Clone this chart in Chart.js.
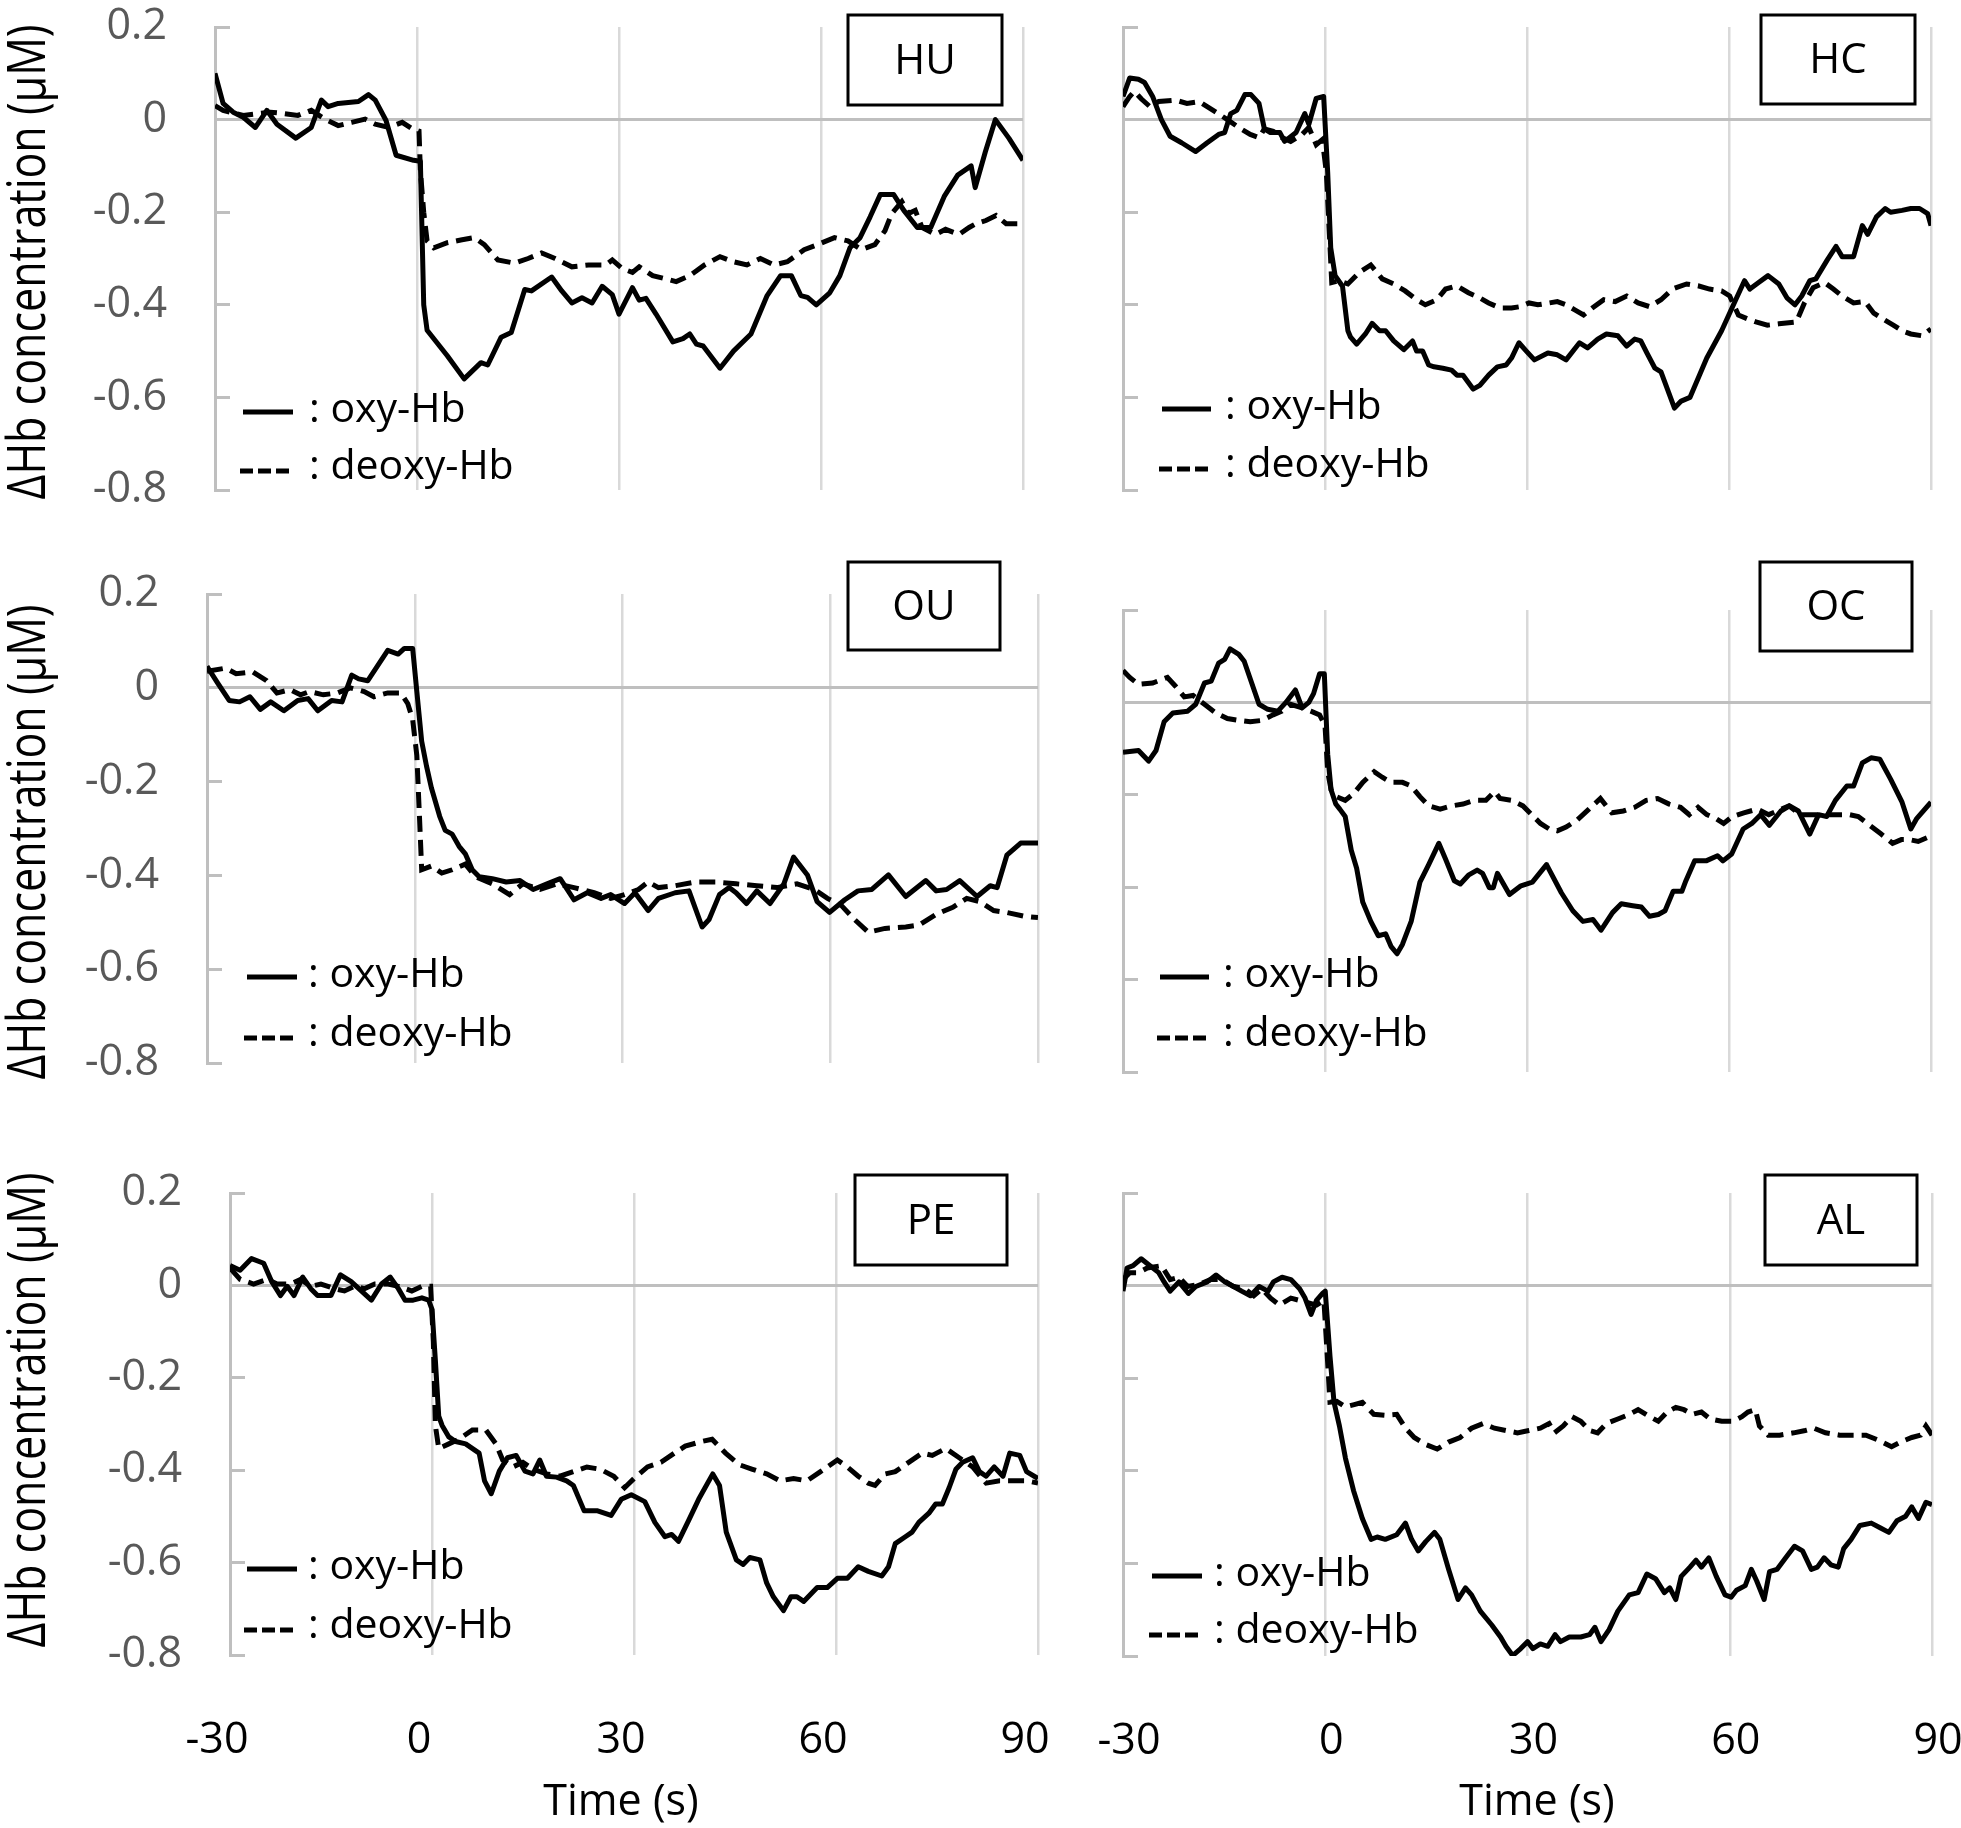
<!DOCTYPE html>
<html>
<head>
<meta charset="utf-8">
<script src="https://cdn.jsdelivr.net/npm/chart.js@4.4.1/dist/chart.umd.min.js"></script>
<style>
  html, body { margin: 0; padding: 0; background: #fff; }
  #wrap { position: relative; width: 1961px; height: 1828px; overflow: hidden; }
  #wrap canvas { position: absolute; left: 0; top: 0; }
</style>
</head>
<body>
<div id="wrap"></div>
<script>
// time axis (s) and concentration axis (uM)
const xTicks = [-30, 0, 30, 60, 90];
const yTicks = [0.2, 0, -0.2, -0.4, -0.6, -0.8];
const yTickLabels = ['0.2', '0', '-0.2', '-0.4', '-0.6', '-0.8'];
const seriesNames = ['oxy-Hb', 'deoxy-Hb'];
const panelNames = ['HU', 'HC', 'OU', 'OC', 'PE', 'AL'];

// [time, value]
const huOxy = [[-30,0.10],[-28.8,0.035],[-27.3,0.016],[-25.8,0.005],[-24,-0.017],[-22.3,0.02],[-20.8,-0.01],[-18,-0.04],[-15.7,-0.017],[-14.2,0.042],[-13.2,0.028],[-11.7,0.035],[-8.7,0.039],[-7.2,0.054],[-6.2,0.042],[-4.6,-0.002],[-3.1,-0.077],[-0.5,-0.088],[0.5,-0.09],[1,-0.40],[1.5,-0.455],[4.5,-0.51],[7,-0.56],[9.5,-0.525],[10.5,-0.53],[12.5,-0.47],[14,-0.46],[16,-0.367],[17,-0.37],[20,-0.34],[21.5,-0.37],[23,-0.396],[24.5,-0.385],[26,-0.396],[27.5,-0.36],[29,-0.378],[30,-0.42],[32,-0.363],[33,-0.39],[34,-0.386],[35.5,-0.42],[38,-0.48],[39.5,-0.473],[40.5,-0.463],[41.5,-0.485],[42.5,-0.489],[45,-0.537],[47,-0.5],[49.6,-0.463],[52,-0.38],[54,-0.337],[55.6,-0.337],[57,-0.38],[58,-0.384],[59.3,-0.4],[61.3,-0.374],[62.8,-0.337],[64.3,-0.277],[65.8,-0.255],[67.3,-0.21],[68.8,-0.162],[70.8,-0.162],[72.3,-0.196],[74.3,-0.233],[76.3,-0.233],[78.3,-0.166],[80.3,-0.12],[82.3,-0.1],[82.9,-0.147],[84.4,-0.07],[85.9,0.0],[87.9,-0.04],[90,-0.088]];
const huDeoxy = [[-30,0.03],[-28.8,0.02],[-25.8,0.009],[-21.8,0.016],[-19.7,0.013],[-17.7,0.009],[-15.7,0.02],[-13.7,0.001],[-11.7,-0.013],[-9.7,-0.006],[-7.7,0.001],[-6.2,-0.01],[-4.2,-0.017],[-2.2,-0.006],[-0.7,-0.02],[0.3,-0.025],[0.5,-0.11],[1,-0.2],[1.5,-0.262],[2.5,-0.277],[4.5,-0.266],[6.5,-0.26],[8.5,-0.255],[10,-0.27],[12,-0.303],[14.5,-0.31],[16.5,-0.3],[18.5,-0.288],[20.5,-0.3],[23,-0.318],[25.5,-0.314],[28,-0.314],[29,-0.303],[30.5,-0.322],[32,-0.33],[33,-0.318],[35,-0.337],[37,-0.344],[38.5,-0.35],[40.5,-0.337],[42.7,-0.314],[45,-0.296],[47,-0.307],[49,-0.314],[51,-0.3],[53,-0.314],[55,-0.307],[57.5,-0.281],[59.5,-0.27],[62,-0.255],[64,-0.262],[66,-0.281],[68,-0.27],[69.5,-0.24],[70.5,-0.203],[72,-0.177],[73,-0.203],[74,-0.196],[75,-0.233],[77,-0.248],[78.5,-0.237],[80.5,-0.248],[82,-0.233],[83,-0.225],[84.5,-0.218],[86,-0.207],[87.5,-0.225],[90,-0.225]];

const hcOxy = [[-30,0.05],[-29,0.09],[-27.7,0.087],[-26.8,0.08],[-25.6,0.05],[-24.3,0.0],[-23,-0.036],[-21.3,-0.05],[-19.2,-0.069],[-17.5,-0.05],[-15.8,-0.032],[-14.9,-0.028],[-14,0.013],[-13.1,0.02],[-11.9,0.054],[-11,0.054],[-9.8,0.035],[-9,-0.02],[-8.1,-0.028],[-6.7,-0.028],[-6,-0.047],[-4.3,-0.028],[-3,0.013],[-2.4,-0.01],[-1.3,0.046],[-0.2,0.05],[0.4,-0.114],[0.85,-0.277],[1.5,-0.337],[2.6,-0.36],[3.4,-0.456],[3.8,-0.47],[4.7,-0.485],[6,-0.463],[7,-0.44],[8.1,-0.456],[9,-0.456],[10.2,-0.478],[11.7,-0.497],[13,-0.478],[13.6,-0.5],[14.5,-0.5],[15.4,-0.53],[16.2,-0.534],[17.5,-0.537],[18.8,-0.541],[19.6,-0.552],[20.5,-0.552],[22,-0.582],[23,-0.574],[24.3,-0.552],[25.6,-0.534],[26.9,-0.53],[27.7,-0.515],[28.8,-0.482],[29.9,-0.5],[31.1,-0.519],[33.1,-0.504],[34.5,-0.508],[35.8,-0.519],[37.8,-0.482],[39,-0.493],[40.5,-0.474],[41.8,-0.463],[43.5,-0.467],[44.8,-0.489],[46,-0.474],[46.9,-0.478],[47.8,-0.504],[49,-0.537],[49.9,-0.545],[51.9,-0.623],[52.9,-0.608],[54.2,-0.6],[56.7,-0.515],[58.9,-0.456],[61,-0.389],[62.3,-0.348],[63.1,-0.366],[64.4,-0.352],[65.8,-0.337],[67.4,-0.355],[68.6,-0.385],[69.8,-0.4],[70.8,-0.381],[72,-0.348],[72.9,-0.344],[74.6,-0.303],[75.9,-0.274],[76.8,-0.296],[78.5,-0.296],[79.8,-0.229],[80.6,-0.248],[81.9,-0.21],[83.2,-0.192],[84,-0.2],[85.7,-0.196],[87,-0.192],[88.3,-0.192],[89.5,-0.203],[90,-0.229]];
const hcDeoxy = [[-30,0.028],[-29,0.05],[-28.3,0.061],[-27.3,0.045],[-26,0.028],[-24.7,0.039],[-22.2,0.042],[-20.5,0.035],[-18.7,0.039],[-17.5,0.028],[-16.2,0.016],[-14.5,0.0],[-12.8,-0.017],[-11.1,-0.032],[-9.8,-0.039],[-9,-0.02],[-7.7,-0.025],[-6.4,-0.039],[-5.1,-0.047],[-3.4,-0.032],[-2.4,-0.017],[-1.3,-0.054],[-0.4,-0.043],[0.2,-0.114],[0.7,-0.262],[1,-0.352],[2.1,-0.348],[3.4,-0.355],[5.1,-0.33],[6.8,-0.314],[8.5,-0.344],[10.2,-0.355],[11.9,-0.37],[13.6,-0.389],[14.9,-0.4],[16.6,-0.389],[17.9,-0.366],[19.6,-0.359],[21.3,-0.374],[23,-0.385],[24.3,-0.396],[26,-0.407],[27.7,-0.407],[29,-0.404],[30.3,-0.396],[31.6,-0.4],[33.3,-0.396],[34.5,-0.393],[35.8,-0.4],[37.1,-0.411],[38.4,-0.422],[39.7,-0.407],[41.4,-0.389],[43.1,-0.393],[44.8,-0.381],[46.5,-0.396],[48.2,-0.404],[49.9,-0.389],[51.6,-0.366],[53.7,-0.355],[55.4,-0.359],[57.1,-0.366],[58.9,-0.37],[60.1,-0.381],[61.4,-0.422],[62.7,-0.43],[64,-0.437],[65.7,-0.444],[67.4,-0.441],[70,-0.437],[71.2,-0.396],[72.5,-0.363],[74.2,-0.352],[75.5,-0.366],[76.8,-0.381],[78.5,-0.396],[80.2,-0.393],[81.5,-0.418],[82.8,-0.43],[84.4,-0.444],[85.7,-0.456],[87,-0.463],[88.7,-0.467],[90,-0.452]];

const ouOxy = [[-30,0.046],[-28.5,0.011],[-26.8,-0.027],[-25.3,-0.03],[-23.8,-0.019],[-22.3,-0.046],[-20.8,-0.03],[-18.9,-0.049],[-16.9,-0.027],[-15.4,-0.023],[-14,-0.049],[-12,-0.027],[-10.5,-0.03],[-9.1,0.027],[-8.1,0.019],[-6.8,0.015],[-5.4,0.046],[-3.9,0.08],[-2.4,0.072],[-1.5,0.084],[-0.3,0.084],[0.3,-0.008],[1,-0.114],[1.7,-0.167],[2.4,-0.213],[3.6,-0.274],[4.4,-0.304],[5.4,-0.312],[6.4,-0.338],[7.3,-0.354],[8.3,-0.388],[9.3,-0.403],[11.2,-0.407],[13.2,-0.414],[15.2,-0.411],[17.1,-0.43],[19.1,-0.418],[21,-0.407],[23,-0.452],[24.9,-0.437],[26.9,-0.449],[28.3,-0.441],[30.3,-0.46],[31.8,-0.437],[33.7,-0.475],[35.2,-0.449],[37.6,-0.437],[39.6,-0.433],[41.5,-0.51],[42.5,-0.494],[44,-0.441],[45.4,-0.426],[46.4,-0.437],[47.9,-0.46],[49.4,-0.433],[51.3,-0.46],[53.3,-0.418],[54.7,-0.361],[56.7,-0.399],[58.1,-0.456],[59.9,-0.479],[62.1,-0.452],[64,-0.433],[66,-0.43],[68.4,-0.399],[70.9,-0.445],[73.8,-0.411],[75.3,-0.433],[76.8,-0.43],[78.7,-0.411],[81.2,-0.445],[83.1,-0.422],[84.1,-0.426],[85.5,-0.357],[87.5,-0.331],[90,-0.331]];
const ouDeoxy = [[-30,0.035],[-27.3,0.042],[-25.8,0.03],[-23.4,0.034],[-21.4,0.015],[-19.9,-0.011],[-18,-0.004],[-16.5,-0.015],[-15.2,-0.008],[-13.2,-0.015],[-11.2,-0.011],[-9.3,0.0],[-7.3,-0.008],[-5.9,-0.019],[-3.9,-0.011],[-2,-0.011],[-1,-0.034],[-0.3,-0.068],[0.3,-0.144],[0.7,-0.281],[1,-0.388],[2.4,-0.38],[3.9,-0.395],[5.4,-0.388],[7.3,-0.376],[8.8,-0.403],[11.2,-0.418],[13.7,-0.441],[15.6,-0.418],[18.1,-0.43],[20.5,-0.418],[23,-0.426],[25.9,-0.437],[28.3,-0.449],[30.3,-0.441],[32.3,-0.43],[33.7,-0.414],[35.2,-0.426],[37.6,-0.422],[40.6,-0.414],[43.5,-0.414],[46.4,-0.418],[49.4,-0.422],[52.3,-0.426],[55.2,-0.418],[57.7,-0.43],[59.6,-0.449],[61.6,-0.464],[63.5,-0.494],[65.5,-0.521],[67.9,-0.513],[70.9,-0.51],[72.8,-0.506],[75.3,-0.483],[77.7,-0.468],[79.7,-0.449],[81.6,-0.456],[83.6,-0.475],[85.5,-0.479],[88,-0.487],[90,-0.49]];

const ocOxy = [[-30,-0.108],[-27.7,-0.104],[-26.2,-0.127],[-25.1,-0.104],[-23.9,-0.042],[-22.6,-0.023],[-20.4,-0.019],[-19.2,-0.004],[-17.9,0.042],[-16.9,0.046],[-15.8,0.085],[-14.9,0.093],[-14.1,0.116],[-12.8,0.104],[-12,0.089],[-9.8,-0.004],[-8.5,-0.015],[-7,-0.019],[-5.8,0.0],[-4.4,0.027],[-3.4,-0.012],[-2.4,0.0],[-1.7,0.019],[-0.8,0.062],[-0.1,0.062],[0.4,-0.112],[0.9,-0.189],[1.6,-0.22],[2.2,-0.231],[3,-0.247],[3.9,-0.32],[4.7,-0.359],[5.6,-0.432],[6.8,-0.474],[7.9,-0.505],[9,-0.501],[9.8,-0.528],[10.7,-0.544],[11.5,-0.524],[12.8,-0.474],[14.1,-0.389],[15.4,-0.351],[16.9,-0.305],[17.9,-0.339],[19.2,-0.386],[20.1,-0.393],[21.3,-0.374],[22.6,-0.363],[23.4,-0.37],[24.4,-0.401],[25,-0.401],[25.6,-0.37],[27.4,-0.416],[29.1,-0.397],[30.8,-0.389],[32.9,-0.351],[35.1,-0.412],[36.8,-0.451],[38.3,-0.474],[39.8,-0.47],[41,-0.493],[42.7,-0.455],[44,-0.436],[45.7,-0.44],[47,-0.443],[48.2,-0.463],[49.5,-0.459],[50.5,-0.451],[51.7,-0.409],[53,-0.409],[53.6,-0.386],[54.9,-0.343],[56.6,-0.343],[58.3,-0.332],[59.1,-0.343],[60.4,-0.328],[62.1,-0.274],[63.4,-0.262],[64.7,-0.243],[66,-0.266],[67.7,-0.235],[69,-0.224],[70.3,-0.235],[72,-0.285],[73.3,-0.243],[74.5,-0.247],[75.8,-0.212],[77.5,-0.181],[78.5,-0.181],[79.8,-0.131],[81.1,-0.12],[82.4,-0.123],[84,-0.166],[85.7,-0.216],[87,-0.274],[87.9,-0.251],[90,-0.216]];
const ocDeoxy = [[-30,0.069],[-29,0.054],[-27.7,0.039],[-25.6,0.042],[-23.4,0.054],[-22.2,0.035],[-20.9,0.012],[-19.6,0.015],[-17.9,-0.004],[-16.2,-0.023],[-14.5,-0.035],[-12.8,-0.039],[-11.1,-0.042],[-9.4,-0.039],[-7.7,-0.027],[-6.4,-0.019],[-5.1,-0.004],[-3.4,-0.012],[-2.1,-0.019],[-0.8,-0.027],[0,-0.05],[0.4,-0.15],[0.9,-0.189],[1.7,-0.204],[3,-0.212],[4.3,-0.197],[5.6,-0.173],[7.3,-0.15],[8.5,-0.162],[9.8,-0.173],[11.5,-0.173],[12.8,-0.181],[14.1,-0.204],[15.4,-0.224],[17.1,-0.231],[18.8,-0.224],[20.5,-0.22],[22.2,-0.212],[23.9,-0.212],[25.2,-0.193],[26,-0.208],[27.7,-0.212],[29.4,-0.224],[30.7,-0.243],[32,-0.262],[33.3,-0.274],[34.5,-0.278],[35.8,-0.27],[37.5,-0.254],[39.2,-0.231],[40.9,-0.208],[42.6,-0.239],[44.3,-0.235],[46,-0.227],[47.7,-0.212],[49.4,-0.208],[51.1,-0.22],[52.8,-0.227],[54.1,-0.243],[55.4,-0.227],[56.7,-0.243],[58,-0.251],[59.2,-0.262],[60.5,-0.247],[62.2,-0.239],[64.2,-0.231],[65.9,-0.243],[67.2,-0.235],[68.9,-0.224],[70.6,-0.243],[72.3,-0.243],[74.5,-0.243],[76.2,-0.243],[77.9,-0.243],[79.2,-0.247],[80.9,-0.266],[82.6,-0.285],[84.3,-0.305],[85.6,-0.297],[86.8,-0.297],[88.1,-0.301],[90,-0.289]];

const peOxy = [[-30,0.043],[-28.5,0.033],[-26.8,0.058],[-25,0.048],[-23.8,0.008],[-22.5,-0.022],[-21.5,-0.002],[-20.5,-0.022],[-19.2,0.018],[-18,-0.007],[-17,-0.022],[-15,-0.022],[-13.6,0.023],[-12,0.008],[-10.5,-0.012],[-9,-0.032],[-7.5,0.003],[-6.2,0.018],[-5,-0.007],[-4,-0.032],[-2.8,-0.032],[-1.5,-0.027],[-0.5,-0.032],[0,-0.052],[0.5,-0.162],[1,-0.283],[1.5,-0.303],[2.5,-0.328],[3.5,-0.338],[5,-0.343],[7,-0.363],[7.8,-0.423],[8.8,-0.451],[10,-0.402],[11.2,-0.373],[12.5,-0.368],[13.8,-0.402],[15,-0.408],[16,-0.378],[17,-0.413],[18.5,-0.415],[20,-0.423],[21,-0.433],[22.6,-0.488],[24.6,-0.488],[26.6,-0.498],[28.1,-0.463],[29.6,-0.453],[31.6,-0.468],[33.1,-0.513],[34.6,-0.544],[35.6,-0.539],[36.6,-0.554],[38.1,-0.509],[39.6,-0.463],[41.7,-0.408],[42.7,-0.433],[43.7,-0.534],[45.2,-0.594],[46.2,-0.604],[47.2,-0.589],[48.7,-0.594],[49.7,-0.644],[50.7,-0.674],[52.2,-0.704],[53.3,-0.674],[54.2,-0.674],[55.2,-0.684],[56.2,-0.669],[57.2,-0.654],[58.7,-0.654],[60.2,-0.634],[61.7,-0.634],[63.3,-0.609],[64.8,-0.619],[66.8,-0.629],[67.8,-0.609],[68.8,-0.559],[70.3,-0.544],[71.3,-0.534],[72.3,-0.513],[73.8,-0.493],[74.8,-0.473],[75.8,-0.473],[76.8,-0.438],[77.8,-0.398],[78.8,-0.383],[80.3,-0.373],[81.3,-0.403],[82.3,-0.413],[83.5,-0.393],[84.8,-0.413],[85.8,-0.363],[87.3,-0.368],[88.3,-0.403],[90,-0.418]];
const peDeoxy = [[-30,0.038],[-28.5,0.013],[-26.5,0.003],[-24.5,0.013],[-23,0.003],[-21,0.003],[-19.5,0.013],[-18,-0.002],[-16.5,0.003],[-14.5,-0.007],[-13,-0.012],[-11.5,-0.002],[-10,-0.007],[-8.5,0.003],[-6.5,0.003],[-5,-0.002],[-3,-0.012],[-1.5,-0.002],[-0.2,-0.002],[0.2,-0.122],[0.5,-0.303],[1,-0.353],[2.5,-0.343],[4,-0.333],[6,-0.313],[8,-0.313],[9.5,-0.343],[10.5,-0.378],[12,-0.393],[13.5,-0.383],[15,-0.398],[17,-0.408],[19,-0.413],[21,-0.403],[23,-0.393],[25,-0.398],[27,-0.413],[28.6,-0.438],[30,-0.418],[32,-0.393],[34,-0.383],[36,-0.363],[37.6,-0.348],[40,-0.338],[41.6,-0.333],[43.6,-0.363],[45.6,-0.388],[47.6,-0.398],[49.7,-0.408],[51.7,-0.423],[53.7,-0.418],[55.7,-0.423],[57.7,-0.403],[60.2,-0.378],[61.7,-0.393],[63.3,-0.413],[64.8,-0.428],[65.8,-0.433],[67.3,-0.408],[68.8,-0.403],[70.8,-0.383],[72.8,-0.363],[74.3,-0.368],[76.3,-0.353],[78.3,-0.373],[80.3,-0.393],[82.3,-0.428],[84.3,-0.423],[86.3,-0.423],[88.3,-0.423],[90,-0.428]];

const alOxy = [[-30,-0.012],[-29.4,0.038],[-28.5,0.043],[-27.3,0.058],[-26,0.043],[-24.7,0.028],[-23.9,0.008],[-23,-0.012],[-21.7,0.008],[-20.3,-0.017],[-19.2,-0.002],[-17.5,0.008],[-16.2,0.023],[-14.9,0.008],[-13.6,-0.002],[-12.4,-0.012],[-11.1,-0.022],[-9.8,-0.002],[-8.5,-0.012],[-7.7,0.008],[-6.4,0.018],[-5.1,0.013],[-3.8,-0.007],[-3,-0.027],[-2.1,-0.062],[-1.3,-0.032],[-0.4,-0.017],[0,-0.012],[0.7,-0.152],[1.3,-0.252],[2.1,-0.303],[3,-0.373],[4.2,-0.443],[5.5,-0.503],[6.8,-0.548],[7.7,-0.543],[8.9,-0.548],[10.6,-0.538],[11.9,-0.513],[12.8,-0.548],[13.8,-0.573],[14.9,-0.553],[16.2,-0.533],[17,-0.548],[18.3,-0.613],[19.7,-0.678],[20.8,-0.653],[21.7,-0.668],[23,-0.703],[24.7,-0.733],[26,-0.759],[26.8,-0.779],[27.8,-0.799],[29,-0.784],[30,-0.769],[30.8,-0.784],[31.9,-0.774],[33,-0.779],[34.1,-0.754],[34.9,-0.769],[36.2,-0.759],[37.9,-0.759],[39.2,-0.754],[40,-0.738],[40.9,-0.769],[42.1,-0.743],[43.4,-0.703],[45.1,-0.668],[46.4,-0.663],[47.7,-0.623],[49,-0.633],[50.3,-0.663],[51.1,-0.653],[52,-0.678],[52.8,-0.628],[54.1,-0.608],[55,-0.593],[55.8,-0.608],[56.9,-0.588],[58,-0.628],[59.3,-0.668],[60.2,-0.673],[61,-0.658],[62.3,-0.648],[63.2,-0.613],[64,-0.638],[65.1,-0.678],[65.9,-0.618],[67,-0.613],[68.3,-0.588],[69.6,-0.563],[70.8,-0.573],[72.1,-0.613],[73,-0.608],[74,-0.588],[75,-0.603],[76.1,-0.608],[76.9,-0.568],[78,-0.548],[79.3,-0.518],[81,-0.513],[82.3,-0.523],[83.6,-0.533],[84.8,-0.508],[86.1,-0.498],[87,-0.478],[88,-0.503],[89.1,-0.468],[90,-0.473]];
const alDeoxy = [[-30,0.013],[-29,0.028],[-27.7,0.028],[-26.4,0.038],[-24.3,0.043],[-23,0.013],[-21.7,0.018],[-20.4,-0.002],[-18.7,0.003],[-17,0.013],[-15.3,0.013],[-13.6,-0.002],[-11.9,-0.007],[-10.6,-0.022],[-9.4,-0.007],[-8.1,-0.027],[-6.8,-0.042],[-5.1,-0.027],[-3.8,-0.032],[-2.6,-0.037],[-1.3,-0.042],[-0.2,-0.032],[0.3,-0.152],[0.7,-0.252],[1.7,-0.25],[3,-0.262],[4.3,-0.257],[5.5,-0.252],[7.2,-0.278],[8.9,-0.28],[10.6,-0.278],[11.9,-0.308],[13.2,-0.328],[14.9,-0.343],[16.6,-0.353],[18.3,-0.338],[20,-0.328],[21.7,-0.308],[23.4,-0.298],[25.1,-0.308],[26.8,-0.313],[28.5,-0.318],[30.2,-0.313],[31.9,-0.308],[33.2,-0.298],[34,-0.318],[35.3,-0.303],[36.6,-0.283],[37.9,-0.293],[39.2,-0.313],[40.4,-0.318],[41.7,-0.298],[43.4,-0.288],[45.1,-0.278],[46.4,-0.268],[48.1,-0.283],[49.4,-0.293],[50.7,-0.273],[52,-0.263],[53.2,-0.268],[54.5,-0.278],[55.8,-0.273],[57.1,-0.288],[58.8,-0.293],[60.5,-0.293],[61.8,-0.283],[62.7,-0.273],[63.8,-0.268],[64.4,-0.303],[65.7,-0.323],[67.4,-0.323],[69.5,-0.318],[71.2,-0.313],[72.5,-0.308],[74.2,-0.318],[76.3,-0.323],[78.5,-0.323],[80.2,-0.323],[81.9,-0.333],[84,-0.348],[85.3,-0.338],[87,-0.328],[88.3,-0.323],[89.1,-0.303],[90,-0.323]];

const W = 1961, H = 1828;
const yTitle = 'ΔHb concentration (μM)';
const xTitle = 'Time (s)';

// page layout for each panel: plot box, name box, legend spot
const panels = [
  { name: panelNames[0], oxy: huOxy, deoxy: huDeoxy, area: [215, 27, 1023, 490], box: [848, 15, 1002, 105],
    leg: [243, 293, 309, 410, 467], left: true, bottom: false, yT: [30, 262] },
  { name: panelNames[1], oxy: hcOxy, deoxy: hcDeoxy, area: [1123, 27, 1931, 490], box: [1761, 15, 1915, 104],
    leg: [1162, 1211, 1225, 407, 465], left: false, bottom: false },
  { name: panelNames[2], oxy: ouOxy, deoxy: ouDeoxy, area: [207, 594, 1038, 1063], box: [848, 562, 1000, 650],
    leg: [247, 297, 308, 975, 1034], left: true, bottom: false, yT: [30, 842] },
  { name: panelNames[3], oxy: ocOxy, deoxy: ocDeoxy, area: [1123, 610, 1931, 1072], box: [1760, 562, 1912, 651],
    leg: [1160, 1209, 1223, 975, 1034], left: false, bottom: false },
  { name: panelNames[4], oxy: peOxy, deoxy: peDeoxy, area: [230, 1193, 1038, 1655], box: [855, 1175, 1007, 1265],
    leg: [247, 297, 308, 1567, 1626], left: true, bottom: true, yT: [30, 1410], xT: [621, 1803], lblOff: -13 },
  { name: panelNames[5], oxy: alOxy, deoxy: alDeoxy, area: [1123, 1193, 1932, 1656], box: [1765, 1175, 1917, 1265],
    leg: [1152, 1202, 1214, 1574, 1631], left: false, bottom: true, xT: [1537, 1803], lblOff: 6 }
];

function decoPlugin(p) {
  return {
    id: 'deco' + p.name,
    afterDraw(chart) {
      const ctx = chart.ctx;
      ctx.save();
      // name box
      const [bl, bt, br, bb] = p.box;
      ctx.fillStyle = '#fff';
      ctx.fillRect(bl, bt, br - bl, bb - bt);
      ctx.strokeStyle = '#000';
      ctx.lineWidth = 3;
      ctx.strokeRect(bl, bt, br - bl, bb - bt);
      ctx.fillStyle = '#000';
      ctx.font = '42px "Open Sans"';
      ctx.textAlign = 'center';
      ctx.textBaseline = 'middle';
      ctx.fillText(p.name, (bl + br) / 2, (bt + bb) / 2 + 2);

      // legend
      const [x1, x2, tx, y1, y2] = p.leg;
      ctx.lineWidth = 5;
      ctx.beginPath(); ctx.moveTo(x1, y1 + 2); ctx.lineTo(x2, y1 + 2); ctx.stroke();
      ctx.setLineDash([13, 5]);
      ctx.beginPath(); ctx.moveTo(x1 - 3, y2 + 4); ctx.lineTo(x2 - 3, y2 + 4); ctx.stroke();
      ctx.setLineDash([]);
      ctx.font = '41px "Open Sans"';
      ctx.textAlign = 'left';
      ctx.fillText(': ' + seriesNames[0], tx, y1);
      ctx.fillText(': ' + seriesNames[1], tx, y2);

      // axis titles
      if (p.yT) {
        ctx.save();
        ctx.translate(p.yT[0], p.yT[1]);
        ctx.rotate(-Math.PI / 2);
        ctx.scale(1, 1.25);
        ctx.font = '43px "Open Sans"';
        ctx.textAlign = 'center';
        ctx.fillText(yTitle, 0, 0);
        ctx.restore();
      }
      if (p.xT) {
        ctx.font = '43px "Open Sans"';
        ctx.textAlign = 'center';
        ctx.fillText(xTitle, p.xT[0], p.xT[1]);
      }
      ctx.restore();
    }
  };
}

function makePanel(p) {
  const canvas = document.createElement('canvas');
  canvas.width = W;
  canvas.height = H;
  document.getElementById('wrap').appendChild(canvas);
  const [l, t, r, b] = p.area;

  new Chart(canvas.getContext('2d'), {
    type: 'line',
    data: {
      datasets: [
        { label: seriesNames[0], data: p.oxy, borderColor: '#000', borderWidth: 5, pointRadius: 0,
          tension: 0, borderJoinStyle: 'round' },
        { label: seriesNames[1], data: p.deoxy, borderColor: '#000', borderWidth: 5, pointRadius: 0,
          tension: 0, borderDash: [16, 8] }
      ]
    },
    options: {
      responsive: false,
      animation: false,
      layout: { padding: { left: 0, top: t, right: W - r, bottom: 0 } },
      plugins: { legend: { display: false }, tooltip: { enabled: false } },
      scales: {
        x: {
          type: 'linear',
          min: -30, max: 90,
          afterFit: s => { s.height = H - b; s.paddingLeft = 0; s.paddingRight = 0; },
          afterBuildTicks: s => { s.ticks = xTicks.map(v => ({ value: v })); },
          border: { display: false },
          grid: {
            drawTicks: false,
            color: c => (c.tick && c.tick.value === -30) ? 'rgba(0,0,0,0)' : '#d9d9d9',
            lineWidth: 2.5
          },
          ticks: {
            display: p.bottom,
            color: '#000',
            font: { family: 'Open Sans', size: 43 },
            padding: 60,
            labelOffset: p.lblOff || 0,
            maxRotation: 0,
            autoSkip: false
          }
        },
        y: {
          min: -0.8, max: 0.2,
          afterFit: s => { s.width = l; s.paddingTop = 0; s.paddingBottom = 0; },
          afterBuildTicks: s => { s.ticks = yTicks.map(v => ({ value: v })); },
          border: { display: true, color: '#bfbfbf', width: 3 },
          grid: {
            tickLength: -15,
            tickColor: '#bfbfbf',
            tickWidth: 3,
            color: c => (c.tick && c.tick.value === 0) ? '#bfbfbf' : 'rgba(0,0,0,0)',
            lineWidth: 3
          },
          ticks: {
            display: p.left,
            color: '#595959',
            font: { family: 'Open Sans', size: 43 },
            padding: 63,
            autoSkip: false,
            callback: v => yTickLabels[yTicks.findIndex(k => Math.abs(k - v) < 1e-6)]
          }
        }
      }
    },
    plugins: [decoPlugin(p)]
  });
}

panels.forEach(makePanel);
</script>
</body>
</html>
